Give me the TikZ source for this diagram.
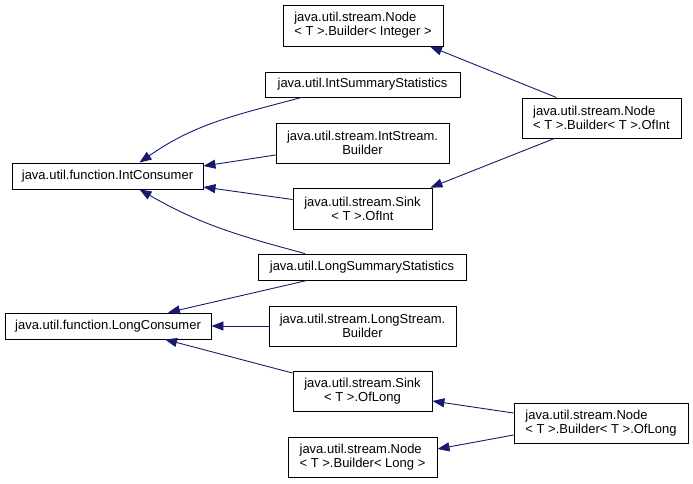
\documentclass[tikz,border=0pt]{standalone}
\usepackage{fontspec}
\setmainfont{Liberation Sans}
\definecolor{edgeblue}{RGB}{25,25,112}
\usepackage{tikz}
\usetikzlibrary{arrows.meta}

\begin{document}
\begin{tikzpicture}[x=1pt,y=-1pt,
    classbox/.style={draw=black,fill=white,line width=0.9pt,inner sep=2pt,
        font=\fontsize{13}{14}\selectfont},
    inherit/.style={edgeblue,line width=0.9pt,-{Triangle[length=12pt,width=9pt]}}]
    \useasboundingbox (0,0) rectangle (693,483);
    % int side
    \node[classbox,align=left,minimum width=160pt,minimum height=41pt] (nbInteger) at (363,25.5) {java.util.stream.Node\\< T >.Builder< Integer >};
    \node[classbox,minimum width=195pt,minimum height=25pt] (intSumm) at (362.5,84.5) {java.util.IntSummaryStatistics};
    \node[classbox,align=center,minimum width=173pt,minimum height=40pt] (intStreamB) at (362.5,143) {java.util.stream.IntStream.\\Builder};
    \node[classbox,align=center,minimum width=139pt,minimum height=41pt] (sinkOfInt) at (362.5,208.5) {java.util.stream.Sink\\< T >.OfInt};
    \node[classbox,minimum width=191pt,minimum height=26pt] (intCons) at (107.5,176) {java.util.function.IntConsumer};
    \node[classbox,align=left,minimum width=159pt,minimum height=40pt] (nbOfInt) at (601.5,118) {java.util.stream.Node\\< T >.Builder< T >.OfInt};
    % long side
    \node[classbox,minimum width=208pt,minimum height=26pt] (longSumm) at (362,267) {java.util.LongSummaryStatistics};
    \node[classbox,minimum width=206pt,minimum height=26pt] (longCons) at (108,326) {java.util.function.LongConsumer};
    \node[classbox,align=center,minimum width=187pt,minimum height=40pt] (longStreamB) at (362.5,326) {java.util.stream.LongStream.\\Builder};
    \node[classbox,align=center,minimum width=139pt,minimum height=40pt] (sinkOfLong) at (362.5,391) {java.util.stream.Sink\\< T >.OfLong};
    \node[classbox,align=left,minimum width=149pt,minimum height=40pt] (nbLong) at (362.5,457) {java.util.stream.Node\\< T >.Builder< Long >};
    \node[classbox,align=left,minimum width=174pt,minimum height=40pt] (nbOfLong) at (601,423) {java.util.stream.Node\\< T >.Builder< T >.OfLong};

    \draw[inherit] ([xshift=37pt]intSumm.south west) to[out=195,in=35] ([xshift=32pt]intCons.north);
    \draw[inherit] ([yshift=-12pt]intStreamB.west) -- ([yshift=10pt]intCons.east);
    \draw[inherit] ([yshift=9pt]sinkOfInt.west) -- ([yshift=-11pt]intCons.east);
    \draw[inherit] ([xshift=-57pt]longSumm.north) to[out=165,in=-30] ([xshift=32pt]intCons.south);
    \draw[inherit] ([xshift=-55pt]longSumm.south) -- ([xshift=60pt]longCons.north);
    \draw[inherit] (longStreamB.west) -- (longCons.east);
    \draw[inherit] ([yshift=18pt]sinkOfLong.west) -- ([xshift=57pt]longCons.south);
    \draw[inherit] ([xshift=-45pt]nbOfInt.north) -- ([xshift=67pt]nbInteger.south);
    \draw[inherit] ([xshift=-47pt]nbOfInt.south) -- ([xshift=-2pt]sinkOfInt.north east);
    \draw[inherit] ([yshift=10pt]nbOfLong.west) -- ([yshift=-10pt]sinkOfLong.east);
    \draw[inherit] ([yshift=-12pt]nbOfLong.west) -- ([yshift=8pt]nbLong.east);
\end{tikzpicture}
\end{document}
